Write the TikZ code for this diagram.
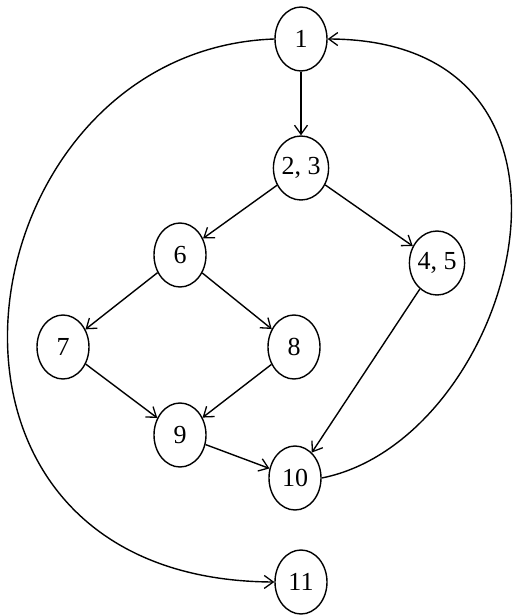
\documentclass[tikz,border=0pt]{standalone}
\usepackage{fontspec}
\setmainfont{Liberation Serif}
\usepackage{tikz}
\usetikzlibrary{
    shapes.geometric, % For ellipse nodes
    arrows.meta       % For arrow tips
}
\tikzset{
    % A shape for the flow graph nodes
    block_node/.style={
        ellipse, draw=black, line width=1.4pt, inner sep=0pt,
        minimum width=52pt, minimum height=64pt,
        font=\fontsize{26}{30}\selectfont
    },
    % Arrow style for the edges
    flow_arrow/.style={-{Straight Barb[length=9pt, width=13pt, line width=1.3pt]}, line width=1.4pt, draw=black}
}

\begin{document}
\begin{tikzpicture}[x=1pt, y=-1pt]

\useasboundingbox (0,0) rectangle (513,616);

% --- NODE DEFINITIONS ---
\node[block_node] (n1)  at (301,39)  {1};
\node[block_node] (n23) at (301,168) {2, 3};
\node[block_node] (n6)  at (180,255) {6};
\node[block_node] (n45) at (437,263) {4, 5};
\node[block_node] (n7)  at (63,347)  {7};
\node[block_node] (n8)  at (294,347) {8};
\node[block_node] (n9)  at (180,435) {9};
\node[block_node] (n10) at (295,478) {10};
\node[block_node] (n11) at (301,582) {11};

% --- EDGE ROUTING ---
\draw[flow_arrow] (n1) -- (n23);
\draw[flow_arrow] (n23) -- (n6);
\draw[flow_arrow] (n23) -- (n45);
\draw[flow_arrow] (n6) -- (n7);
\draw[flow_arrow] (n6) -- (n8);
\draw[flow_arrow] (n7) -- (n9);
\draw[flow_arrow] (n8) -- (n9);
\draw[flow_arrow] (n9) -- (n10);
\draw[flow_arrow] (n45) -- (n10);

% Loop back and exit arcs
\draw[flow_arrow] (n10.east) .. controls (515,440) and (625,40) .. (n1.east);
\draw[flow_arrow] (n1.west) .. controls (-40,50) and (-120,580) .. (n11.west);

\end{tikzpicture}
\end{document}
